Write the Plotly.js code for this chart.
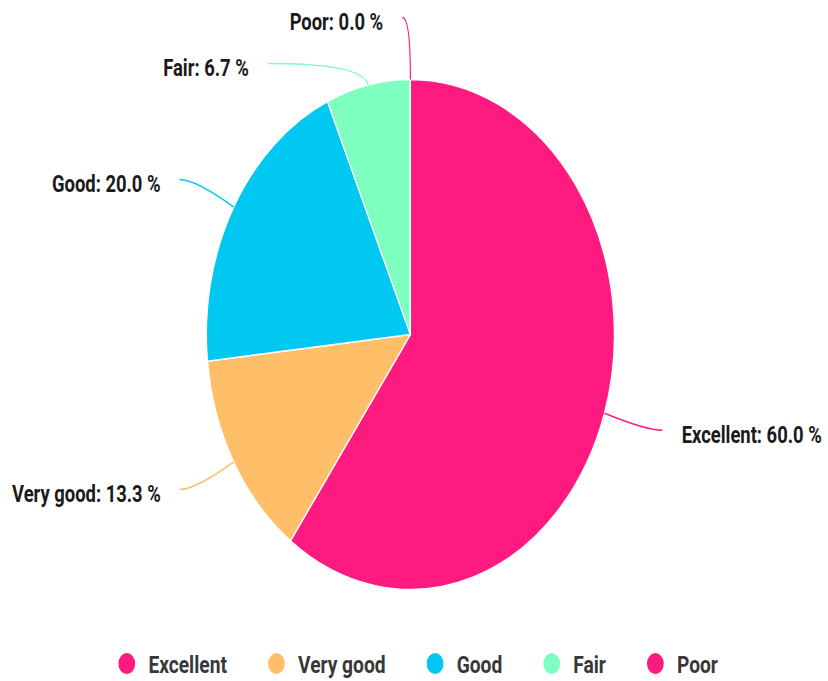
<!DOCTYPE html>
<html>
<head>
<meta charset="utf-8">
<script src="https://cdn.plot.ly/plotly-3.0.1.min.js"></script>
<style>
  html, body { margin: 0; padding: 0; overflow: hidden; background: #fff; }
  /* the reference is squeezed horizontally, so draw wide and squeeze */
  #pieChart { width: 1035px; height: 681px; transform: scaleX(0.8); transform-origin: 0 0; }
</style>
</head>
<body>
<div id="pieChart"></div>
<script>
// Survey rating split (15 answers)
var ratings = ['Excellent', 'Very good', 'Good', 'Fair', 'Poor'];
var counts = [9, 2, 3, 1, 0];
var colors = ['#FF1A7F', '#FFBF69', '#00C8F0', '#7FFFBF', '#FF1A7F'];

// leader line tuning (pixels): radial length, horizontal hook
var leaderLen = [55, 55, 55, 22, 62];
var hookLen = [20, 20, 20, 120, 10];

var W = 1035, H = 681;
var cx = 513, cy = 334.5, R = 255;

var total = counts.reduce(function (a, b) { return a + b; }, 0);

function px(x) { return x / W; }
function py(y) { return 1 - y / H; }

var shapes = [];
var annotations = [];
var cum = 0;
for (var i = 0; i < counts.length; i++) {
    var mid = (cum + counts[i] / 2) / total * 2 * Math.PI;
    cum += counts[i];
    var dx = Math.sin(mid), dy = -Math.cos(mid);
    var side = dx >= 0 ? 1 : -1;
    var ax = cx + R * dx, ay = cy + R * dy;
    var bx = cx + (R + leaderLen[i]) * dx, by = cy + (R + leaderLen[i]) * dy;
    var ex = bx + side * hookLen[i], ey = by;
    shapes.push({
        type: 'path', xref: 'paper', yref: 'paper',
        path: 'M ' + px(ax) + ',' + py(ay) + ' Q ' + px(bx) + ',' + py(by) + ' ' + px(ex) + ',' + py(ey),
        line: { color: colors[i], width: 1.5 }
    });
    var pct = (counts[i] / total * 100).toFixed(1);
    annotations.push({
        xref: 'paper', yref: 'paper',
        x: px(ex + side * 22), y: py(ey), yshift: -5,
        xanchor: side > 0 ? 'left' : 'right', yanchor: 'middle',
        text: ratings[i] + ': ' + pct + ' %',
        showarrow: false,
        font: { family: 'Roboto', size: 23, color: '#1a1a1a', weight: 'bold' }
    });
}

var pieTrace = {
    type: 'pie',
    labels: ratings,
    values: counts,
    sort: false,
    direction: 'clockwise',
    rotation: 0,
    textinfo: 'none',
    hoverinfo: 'none',
    showlegend: false,
    marker: { colors: colors, line: { color: '#ffffff', width: 1.5 } },
    domain: { x: [px(cx - R), px(cx + R)], y: [py(cy + R), py(cy - R)] }
};

// legend entries with round markers (trailing spaces widen the gap between entries)
var pad = '\u00a0\u00a0\u00a0\u00a0\u00a0';
var legendTraces = ratings.map(function (name, k) {
    return {
        type: 'scatter', mode: 'markers', x: [null], y: [null],
        name: name + (k < ratings.length - 1 ? pad : ''),
        marker: { color: colors[k], size: 16, symbol: 'circle', line: { color: colors[k], width: 5 } },
        hoverinfo: 'skip'
    };
});

var layout = {
    width: W,
    height: H,
    margin: { l: 0, r: 0, t: 0, b: 0, autoexpand: false },
    paper_bgcolor: '#ffffff',
    plot_bgcolor: '#ffffff',
    xaxis: { visible: false },
    yaxis: { visible: false },
    shapes: shapes,
    annotations: annotations,
    showlegend: true,
    legend: {
        orientation: 'h',
        x: 0.5, xanchor: 'center',
        y: py(664), yanchor: 'middle',
        itemwidth: 44,
        font: { family: 'Roboto', size: 24, color: '#383838', weight: 'bold' },
        itemclick: false
    }
};

Plotly.newPlot('pieChart', [pieTrace].concat(legendTraces), layout, { displayModeBar: false, staticPlot: true });
</script>
</body>
</html>
